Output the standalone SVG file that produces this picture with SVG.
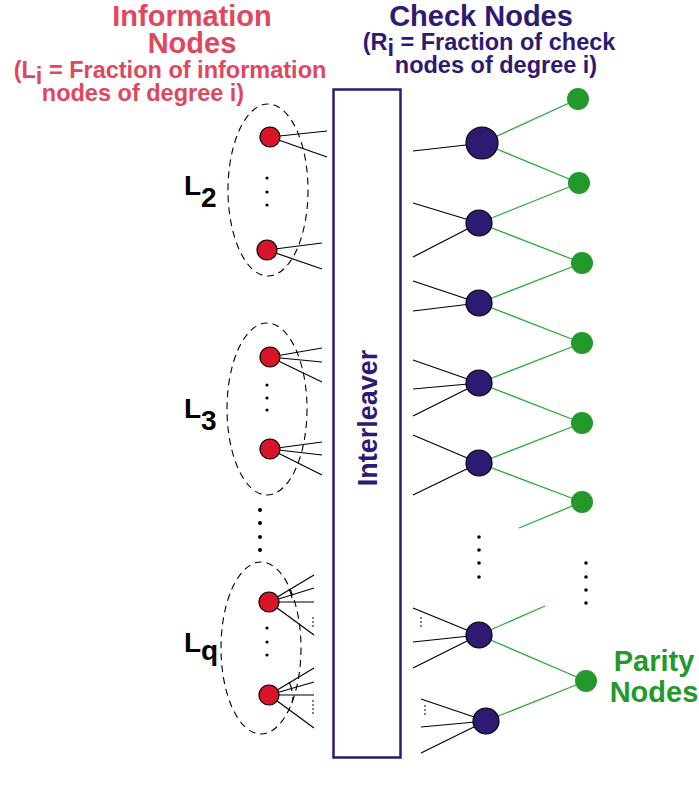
<svg xmlns="http://www.w3.org/2000/svg" width="699" height="791" viewBox="0 0 699 791">
<style>
text{font-family:"Liberation Sans",Arial,sans-serif;font-weight:bold}
.red{fill:#e0475e}
.navy{fill:#2e1a72}
.grn{fill:#22992a}
.lbl{fill:#000;font-size:28px}
.inf{fill:#d81428;stroke:#000;stroke-width:1.2}
.chk{fill:#2e1a72;stroke:#000;stroke-width:1.2}
.par{fill:#22992a}
.ell{fill:none;stroke:#000;stroke-width:1.1;stroke-dasharray:7 5}
.bl{stroke:#000;stroke-width:1.2;fill:none}
.gl{stroke:#2fa83a;stroke-width:1.3;fill:none}
.dt{stroke:#000;stroke-width:1;stroke-dasharray:2 2}
.dot{fill:#000}
</style>

<g id="titles">
<text class="red" x="192" y="26" font-size="29" text-anchor="middle">Information</text>
<text class="red" x="192" y="53" font-size="29" text-anchor="middle">Nodes</text>
<text class="red" x="170" y="78" font-size="23.5" text-anchor="middle">(L<tspan dy="6">i</tspan><tspan dy="-6"> = Fraction of information</tspan></text>
<text class="red" x="143" y="101" font-size="23.5" text-anchor="middle">nodes of degree i)</text>
<text class="navy" x="481" y="26" font-size="29" text-anchor="middle">Check Nodes</text>
<text class="navy" x="489" y="50" font-size="23.5" text-anchor="middle">(R<tspan dy="6">i</tspan><tspan dy="-6"> = Fraction of check</tspan></text>
<text class="navy" x="496" y="73" font-size="23.5" text-anchor="middle">nodes of degree i)</text>
<text class="grn" x="654" y="671" font-size="29" text-anchor="middle">Parity</text>
<text class="grn" x="654" y="702" font-size="29" text-anchor="middle">Nodes</text>
</g>

<g id="interleaver">
<rect x="333.5" y="89.5" width="67" height="668" fill="#fff" stroke="#2e1a72" stroke-width="2.5"/>
<text class="navy" font-size="27" text-anchor="middle" transform="translate(377,418) rotate(-90)">Interleaver</text>
</g>

<g id="connectors">
<path class="bl" d="M270 137L327 131M270 137L327 157M267 250L322 243M267 250L322 269"/>
<path class="bl" d="M270 357L322 348M270 357L322 362M270 357L322 382M270 449L322 442M270 449L322 455M270 449L322 475"/>
<path class="bl" d="M269 602L314 575M269 602L314 588M269 602L314 602M269 602L314 635M269 695L314 668M269 695L314 682M269 695L314 695M269 695L314 728"/>
<path class="dt" d="M313 617V629M313 700V716"/>
<path class="bl" d="M289 589A24 24 0 0 1 292 598M289 682A24 24 0 0 1 292 691M292 703A24 24 0 0 0 293 697" stroke-width="1"/>
<path class="bl" d="M413 151L466 145M413 203L479 223M413 257L479 223M413 281L479 303M413 311L479 303M413 360L479 383M413 389L479 383M413 416L479 383M413 435L479 463M413 495L479 463M413 608L479 635M413 642L479 635M413 668L479 635M421 699L486 721M421 727L486 721M421 753L486 721"/>
<path class="dt" d="M421 617V629M425 705V715"/>
<path class="gl" d="M482 143L578 99M482 143L579 183M479 223L579 183M479 223L582 263M479 303L582 263M479 303L582 343M479 383L582 343M479 383L582 423M479 463L582 423M479 463L582 502M582 502L519 528M479 635L545 606M479 635L586 681M486 721L586 681"/>
</g>

<g id="group-L2">
<ellipse class="ell" cx="268" cy="190" rx="40" ry="86"/>
<circle class="inf" cx="270" cy="137" r="10"/>
<circle class="inf" cx="267" cy="250" r="10"/>
<circle class="dot" cx="267" cy="178" r="1.6"/><circle class="dot" cx="267" cy="192" r="1.6"/><circle class="dot" cx="267" cy="205" r="1.6"/>
<text class="lbl" x="184" y="195">L<tspan dy="12">2</tspan></text>
</g>

<g id="group-L3">
<ellipse class="ell" cx="267" cy="409" rx="40" ry="86"/>
<circle class="inf" cx="270" cy="357" r="10"/>
<circle class="inf" cx="270" cy="449" r="10"/>
<circle class="dot" cx="267" cy="385" r="1.6"/><circle class="dot" cx="267" cy="398" r="1.6"/><circle class="dot" cx="267" cy="410" r="1.6"/>
<text class="lbl" x="184" y="418">L<tspan dy="12">3</tspan></text>
</g>

<g id="group-Lq">
<circle class="dot" cx="260" cy="510" r="2"/><circle class="dot" cx="260" cy="523" r="2"/><circle class="dot" cx="260" cy="537" r="2"/><circle class="dot" cx="260" cy="550" r="2"/>
<ellipse class="ell" cx="261" cy="648" rx="40" ry="86"/>
<circle class="inf" cx="269" cy="602" r="10"/>
<circle class="inf" cx="269" cy="695" r="10"/>
<circle class="dot" cx="267" cy="628" r="1.6"/><circle class="dot" cx="267" cy="642" r="1.6"/><circle class="dot" cx="267" cy="655" r="1.6"/>
<text class="lbl" x="184" y="652">L<tspan dy="8">q</tspan></text>
</g>

<g id="check-nodes">
<circle class="chk" cx="482" cy="143" r="16" stroke="#2fa83a"/>
<circle class="chk" cx="479" cy="223" r="13"/>
<circle class="chk" cx="479" cy="303" r="13"/>
<circle class="chk" cx="479" cy="383" r="13"/>
<circle class="chk" cx="479" cy="463" r="13"/>
<circle class="chk" cx="479" cy="635" r="13"/>
<circle class="chk" cx="486" cy="721" r="13"/>
<circle class="dot" cx="479" cy="537" r="1.8"/><circle class="dot" cx="479" cy="550" r="1.8"/><circle class="dot" cx="479" cy="563" r="1.8"/><circle class="dot" cx="479" cy="577" r="1.8"/>
</g>

<g id="parity-nodes">
<circle class="par" cx="578" cy="99" r="11"/>
<circle class="par" cx="579" cy="183" r="11"/>
<circle class="par" cx="582" cy="263" r="11"/>
<circle class="par" cx="582" cy="343" r="11"/>
<circle class="par" cx="582" cy="423" r="11"/>
<circle class="par" cx="582" cy="502" r="11"/>
<circle class="par" cx="586" cy="681" r="11"/>
<circle class="dot" cx="586" cy="563" r="1.8"/><circle class="dot" cx="586" cy="577" r="1.8"/><circle class="dot" cx="586" cy="590" r="1.8"/><circle class="dot" cx="586" cy="603" r="1.8"/>
</g>
</svg>
